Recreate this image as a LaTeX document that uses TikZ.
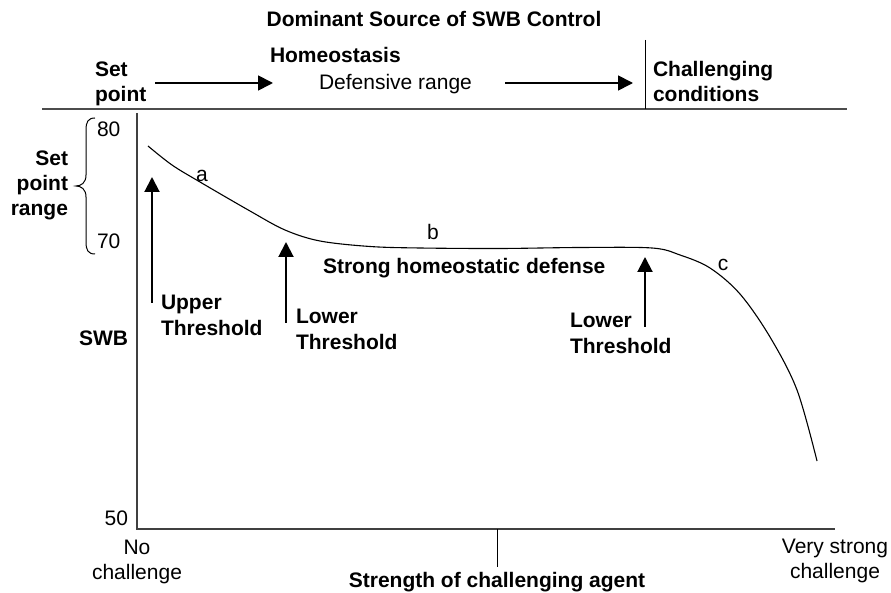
\documentclass[tikz,border=0pt]{standalone}
\usepackage{fontspec}
\setmainfont{Liberation Sans}
\usetikzlibrary{arrows.meta}
\begin{document}
\begin{tikzpicture}[x=1pt,y=-1pt,
  lbl/.style={inner sep=0pt, outer sep=0pt, font=\fontsize{21}{25}\selectfont},
  blbl/.style={inner sep=0pt, outer sep=0pt, font=\fontsize{21}{25}\selectfont\bfseries},
  uparr/.style={-{Triangle[length=15pt,width=15pt]}, line width=2pt},
  rtarr/.style={-{Triangle[length=15pt,width=15pt]}, line width=1.7pt},
  topline/.style={line width=2pt, draw=black!70},
  axis/.style={line width=1.5pt, draw=black!75},
  thin/.style={line width=1pt},
  curve/.style={line width=1.1pt}]
\useasboundingbox (0,0) rectangle (891,593);

% header
\node[blbl, anchor=base] (title) at (434,27) {Dominant Source of SWB Control};
\node[blbl, anchor=base west] (homeo) at (270,63) {Homeostasis};
\node[blbl, anchor=base west, align=left] (setpt) at (95,102) {Set\\point};
\node[lbl, anchor=base west] (defr) at (319,90) {Defensive range};
\node[blbl, anchor=base west, align=left] (chall) at (653,102) {Challenging\\conditions};
\coordinate (a1s) at (155,83);
\coordinate (a1e) at (273,83);
\coordinate (a2s) at (505,83);
\coordinate (a2e) at (633,83);
\draw[rtarr] (a1s) -- (a1e);
\draw[rtarr] (a2s) -- (a2e);
\coordinate (hl) at (42,109);
\coordinate (hr) at (847,109);
\coordinate (vt) at (645,40);
\coordinate (vb) at (645,109);
\draw[topline] (hl) -- (hr);
\draw[thin] (vt) -- (vb);

% axes
\coordinate (ytop) at (137,113);
\coordinate (orig) at (137,529);
\coordinate (xend) at (835,529);
\coordinate (tk1) at (497,529);
\coordinate (tk2) at (497,567);
\draw[axis] (ytop) -- (orig) -- (xend);
\draw[thin] (tk1) -- (tk2);

% y labels
\node[lbl, anchor=base west] (v80) at (97,137) {80};
\node[lbl, anchor=base west] (v70) at (97,249) {70};
\node[lbl, anchor=base east] (v50) at (128,525) {50};
\node[blbl, anchor=base east] (swb) at (128,345) {SWB};
\node[blbl, anchor=base east, align=right] (spr) at (68,216) {Set\\point\\range};
\draw[thin] (95,118) .. controls (88,118) and (86,122) .. (86,130) -- (86,175)
  .. controls (86,183) and (81,186) .. (76,186)
  .. controls (81,186) and (86,189) .. (86,197) -- (86,242)
  .. controls (86,250) and (88,254) .. (95,254);

% x labels
\node[lbl, anchor=base, align=center] (noch) at (137,579) {No\\challenge};
\node[lbl, anchor=base, align=center] (vsch) at (835,578) {Very strong\\challenge};
\node[blbl, anchor=base] (xlab) at (497,587) {Strength of challenging agent};

% curve
\draw[curve] plot[smooth, tension=0.55] coordinates {(148,146) (172,165) (200,182) (250,211) (285,230) (320,241) (370,246.5) (420,248) (500,248.5) (580,247.5) (652,248) (680,255) (710,268) (740,294) (770,337) (797,390) (817,461)};
\node[lbl, anchor=base] (la) at (202,182) {a};
\node[lbl, anchor=base] (lb) at (433,240) {b};
\node[lbl, anchor=base] (lc) at (723,271) {c};

% thresholds
\node[blbl, anchor=base west, align=left] (upth) at (161,335) {Upper\\Threshold};
\node[blbl, anchor=base west, align=left] (loth1) at (296,349) {Lower\\Threshold};
\node[blbl, anchor=base west, align=left] (loth2) at (570,353) {Lower\\Threshold};
\node[blbl, anchor=base west] (shd) at (323,274) {Strong homeostatic defense};
\coordinate (u1) at (152,303);
\coordinate (u2) at (152,177);
\coordinate (l1) at (286,323);
\coordinate (l2) at (286,242);
\coordinate (r1) at (645,327);
\coordinate (r2) at (645,257);
\draw[uparr] (u1) -- (u2);
\draw[uparr] (l1) -- (l2);
\draw[uparr] (r1) -- (r2);
\end{tikzpicture}
\end{document}
